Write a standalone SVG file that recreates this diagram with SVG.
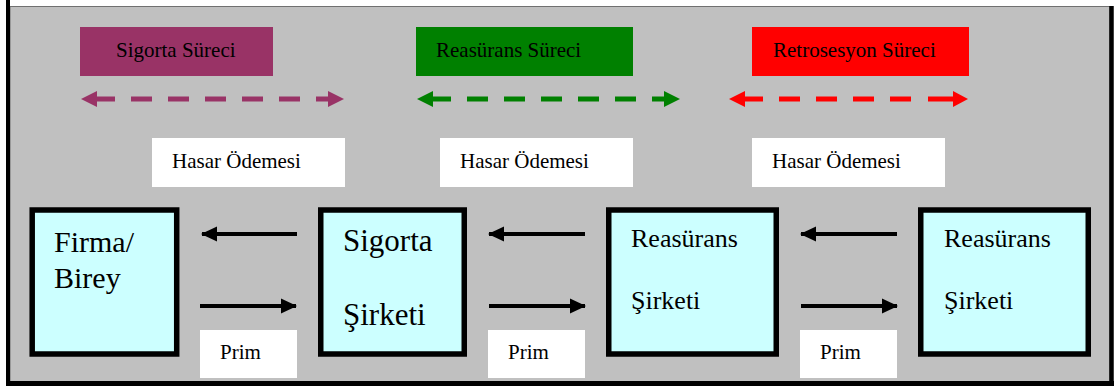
<svg xmlns="http://www.w3.org/2000/svg" width="1119" height="389" viewBox="0 0 1119 389">
  <style>
    text { font-family: 'Liberation Serif', 'DejaVu Serif', 'Times New Roman', serif; fill: #000; }
    .lbl { font-size: 21px; }
    .big { font-size: 30px; }
    .mid { font-size: 26px; }
    .node { fill: #ccffff; stroke: #000; stroke-width: 5.5; }
    .plate { fill: #ffffff; }
    .flow { stroke: #000; stroke-width: 4; fill: none; }
    .dash { stroke-width: 5; fill: none; stroke-dasharray: 21 16; }
  </style>
  <defs>
    <marker id="head" viewBox="0 0 16 16" refX="15" refY="8" markerWidth="16" markerHeight="16" markerUnits="userSpaceOnUse" orient="auto">
      <path d="M0,0.5 L16,8 L0,15.5 Z" fill="#000"/>
    </marker>
  </defs>

  <rect width="1119" height="389" fill="#ffffff"/>

  <!-- panel -->
  <rect x="10" y="6.5" width="1100" height="375" fill="#c0c0c0" stroke="#707070" stroke-width="1"/>
  <line x1="8" y1="0" x2="8" y2="386" stroke="#000" stroke-width="4"/>
  <line x1="1111.5" y1="6" x2="1111.5" y2="386" stroke="#000" stroke-width="4.5"/>
  <line x1="6" y1="383.5" x2="1114" y2="383.5" stroke="#000" stroke-width="5"/>

  <!-- legend -->
  <g id="legend-sigorta">
    <rect x="80" y="27" width="193" height="49" fill="#993366"/>
    <text class="lbl" x="116" y="57" font-family="Liberation Serif, serif">Sigorta Süreci</text>
    <line class="dash" x1="94" y1="99" x2="330" y2="99" stroke="#993366"/>
    <polygon points="81,99 97,91 97,107" fill="#993366"/>
    <polygon points="328,91 344,99 328,107" fill="#993366"/>
  </g>
  <g id="legend-reasurans">
    <rect x="416" y="27" width="217" height="49" fill="#008000"/>
    <text class="lbl" x="436" y="57">Reasürans Süreci</text>
    <line class="dash" x1="430" y1="99" x2="666" y2="99" stroke="#008000"/>
    <polygon points="417,99 433,91 433,107" fill="#008000"/>
    <polygon points="664,91 680,99 664,107" fill="#008000"/>
  </g>
  <g id="legend-retrosesyon">
    <rect x="752" y="27" width="217" height="49" fill="#ff0000"/>
    <text class="lbl" x="773" y="57">Retrosesyon Süreci</text>
    <line class="dash" x1="742" y1="99" x2="956" y2="99" stroke="#ff0000" style="stroke-dasharray:21 16 21 16 21 16 21 16 21 17 30"/>
    <polygon points="729,99 745,91 745,107" fill="#ff0000"/>
    <polygon points="953,91 968,99 953,107" fill="#ff0000"/>
  </g>

  <!-- claim payment labels -->
  <g id="hasar-1">
    <rect class="plate" x="152" y="138" width="193" height="49"/>
    <text class="lbl" x="172" y="168">Hasar Ödemesi</text>
  </g>
  <g id="hasar-2">
    <rect class="plate" x="440" y="138" width="193" height="49"/>
    <text class="lbl" x="460" y="168">Hasar Ödemesi</text>
  </g>
  <g id="hasar-3">
    <rect class="plate" x="752" y="138" width="193" height="49"/>
    <text class="lbl" x="772" y="168">Hasar Ödemesi</text>
  </g>

  <!-- premium labels -->
  <g id="prim-1">
    <rect class="plate" x="200" y="330" width="97" height="48"/>
    <text class="lbl" x="220" y="359">Prim</text>
  </g>
  <g id="prim-2">
    <rect class="plate" x="488" y="330" width="97" height="48"/>
    <text class="lbl" x="508" y="359">Prim</text>
  </g>
  <g id="prim-3">
    <rect class="plate" x="800" y="330" width="97" height="48"/>
    <text class="lbl" x="820" y="359">Prim</text>
  </g>

  <!-- parties -->
  <g id="firma-birey">
    <rect class="node" x="32.2" y="210" width="144.5" height="144"/>
    <text class="big" x="54" y="251.5">Firma/</text>
    <text class="big" x="54" y="288">Birey</text>
  </g>
  <g id="sigorta-sirketi">
    <rect class="node" x="320.75" y="210" width="143.5" height="144"/>
    <text class="big" x="343" y="251" style="font-size:31px">Sigorta</text>
    <text class="big" x="343" y="325" style="font-size:31px">Şirketi</text>
  </g>
  <g id="reasurans-sirketi-1">
    <rect class="node" x="608.75" y="210" width="167.5" height="144"/>
    <text class="mid" x="631" y="247">Reasürans</text>
    <text class="mid" x="631" y="309">Şirketi</text>
  </g>
  <g id="reasurans-sirketi-2">
    <rect class="node" x="920.75" y="210" width="167.5" height="144"/>
    <text class="mid" x="944" y="247">Reasürans</text>
    <text class="mid" x="944" y="309">Şirketi</text>
  </g>

  <!-- connectors -->
  <g id="connectors">
    <line class="flow" x1="297" y1="234" x2="202" y2="234" marker-end="url(#head)"/>
    <line class="flow" x1="200" y1="306" x2="296" y2="306" marker-end="url(#head)"/>
    <line class="flow" x1="585" y1="234" x2="489" y2="234" marker-end="url(#head)"/>
    <line class="flow" x1="489" y1="306" x2="585" y2="306" marker-end="url(#head)"/>
    <line class="flow" x1="897" y1="234" x2="801" y2="234" marker-end="url(#head)"/>
    <line class="flow" x1="801" y1="306" x2="897" y2="306" marker-end="url(#head)"/>
  </g>
</svg>
